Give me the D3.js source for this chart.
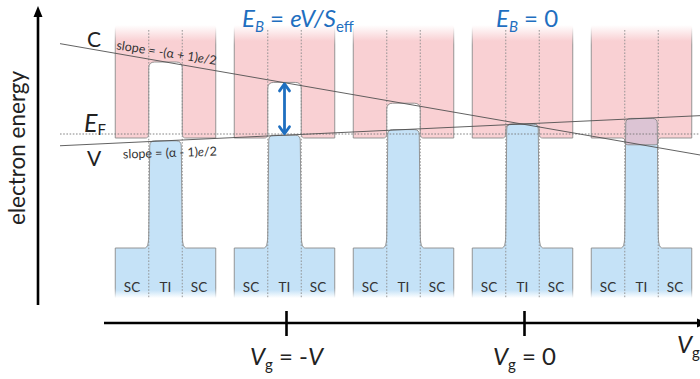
<!DOCTYPE html>
<html><head><meta charset="utf-8">
<script src="https://cdn.jsdelivr.net/npm/d3@7"></script>
<style>
html,body{margin:0;padding:0;background:#fff;}
svg{display:block;font-family:Lato,"Open Sans",sans-serif;}
</style></head><body>
<svg id="chart" width="700" height="379"></svg>
<script>
// Gate voltage of each band diagram, in units of V
const gateVoltages = [-1.5, -1, -0.5, 0, 0.5];
// TI conduction-band bottom and valence-band top, meV relative to E_F
const tiConduction = [360, 258, 154, 50, -54];
const tiValence = [-34, -6, 22, 50, 78];
// SC band edges, meV relative to E_F
const scConduction = -20;
const scValence = -570;
// Energy window shown for the bands (fades at both ends)
const energyRange = [-820, 545];
const regionLabels = ["SC", "TI", "SC"];
const gateTicks = [-1, 0];
const gateTickLabels = ["-V", "0"];

const svg = d3.select("#chart");
const W = 700, H = 379;

const x = d3.scaleLinear().domain([-1, 0]).range([284.5, 522.5]);
const y = d3.scaleLinear().domain(energyRange).range([298, 25]);
const panelW = 100.5;
const region = d3.scaleBand().domain([0, 1, 2]).range([-panelW / 2, panelW / 2]);

const pink = "#f9d0d3", blue = "#c5e2f7", purple = "#dcc4d4";
const edge = "#8a8a8a";
const accent = "#1f6fc0";

const defs = svg.append("defs");
function vGrad(id, color, y1, y2, o1, o2) {
  const g = defs.append("linearGradient").attr("id", id)
    .attr("gradientUnits", "userSpaceOnUse")
    .attr("x1", 0).attr("x2", 0).attr("y1", y1).attr("y2", y2);
  g.append("stop").attr("offset", 0).attr("stop-color", color).attr("stop-opacity", o1);
  g.append("stop").attr("offset", 1).attr("stop-color", color).attr("stop-opacity", o2);
}
const yTop = y(energyRange[1]), yBot = y(energyRange[0]);
vGrad("pinkFill", pink, yTop, yTop + 16, 0, 1);
vGrad("pinkEdge", edge, yTop + 2, yTop + 20, 0, 1);
vGrad("blueFill", blue, yBot - 8, yBot, 1, 0);
vGrad("blueEdge", edge, yBot - 10, yBot, 1, 0);

// Band edge running across SC | TI | SC, from the left SC to the right SC
function profile(cx, eS, eT, fx, fy, r, taper) {
  const L = cx - panelW / 2, R = cx + panelW / 2;
  const tL = cx + region(1), tR = cx + region(1) + region.bandwidth();
  const yS = y(eS), yT = y(eT);
  const s = Math.sign(yT - yS);
  if (s === 0) return `M${L},${yS}L${R},${yS}`;
  const d = Math.abs(yT - yS);
  const f = Math.min(fy, d * 0.45), rc = Math.min(r, d * 0.45);
  return [
    `M${L},${yS}`,
    `L${tL - fx},${yS}`,
    `C${tL - fx * 0.25},${yS} ${tL},${yS + s * f * 0.35} ${tL},${yS + s * f}`,
    `L${tL + taper},${yT - s * rc}`,
    `Q${tL + taper},${yT} ${tL + taper + rc},${yT}`,
    `L${tR - taper - rc},${yT}`,
    `Q${tR - taper},${yT} ${tR - taper},${yT - s * rc}`,
    `L${tR},${yS + s * f}`,
    `C${tR},${yS + s * f * 0.35} ${tR + fx * 0.25},${yS} ${tR + fx},${yS}`,
    `L${R},${yS}`
  ].join("");
}

const panels = gateVoltages.map((v, i) => ({
  v, i, cx: x(v), ec: tiConduction[i], ev: tiValence[i]
}));

function cbPath(p, close) {
  const L = p.cx - panelW / 2, R = p.cx + panelW / 2;
  const body = profile(p.cx, scConduction, p.ec, 3, 6, 6, 0).replace(/^M/, "L");
  return `M${L},${yTop}` + body + `L${R},${yTop}` + (close ? "Z" : "");
}
function vbPath(p, close) {
  const L = p.cx - panelW / 2, R = p.cx + panelW / 2;
  const body = profile(p.cx, scValence, p.ev, 4, 15, 5, 1).replace(/^M/, "L");
  return `M${L},${yBot}` + body + `L${R},${yBot}` + (close ? "Z" : "");
}

// clip paths of the conduction bands, used to shade band overlap
panels.forEach(p => {
  defs.append("clipPath").attr("id", "cb" + p.i)
    .append("path").attr("d", cbPath(p, true));
});

const g = svg.append("g");
g.selectAll("path.cb").data(panels).join("path").attr("class", "cb")
  .attr("d", p => cbPath(p, true)).attr("fill", "url(#pinkFill)");
g.selectAll("path.vb").data(panels).join("path").attr("class", "vb")
  .attr("d", p => vbPath(p, true)).attr("fill", "url(#blueFill)");
g.selectAll("path.ov").data(panels.filter(p => p.ev > p.ec)).join("path").attr("class", "ov")
  .attr("clip-path", p => `url(#cb${p.i})`)
  .attr("d", p => vbPath(p, true)).attr("fill", purple);
g.selectAll("path.cbe").data(panels).join("path").attr("class", "cbe")
  .attr("d", p => cbPath(p, false)).attr("fill", "none")
  .attr("stroke", "url(#pinkEdge)").attr("stroke-width", 0.9);
g.selectAll("path.vbe").data(panels).join("path").attr("class", "vbe")
  .attr("d", p => vbPath(p, false)).attr("fill", "none")
  .attr("stroke", "url(#blueEdge)").attr("stroke-width", 0.9);

// SC / TI boundaries
const bounds = panels.flatMap(p => [p.cx + region(1), p.cx + region(2)]);
g.selectAll("line.bd").data(bounds).join("line").attr("class", "bd")
  .attr("x1", d => d).attr("x2", d => d)
  .attr("y1", yTop + 5).attr("y2", yBot)
  .attr("stroke", "#8c8c8c").attr("stroke-width", 0.9).attr("stroke-dasharray", "1.6,1.6");

// region labels
g.selectAll("g.lab").data(panels).join("g").attr("class", "lab")
  .selectAll("text").data(p => regionLabels.map((t, k) => ({ t, xx: p.cx + region(k) + region.bandwidth() / 2 })))
  .join("text").attr("x", d => d.xx).attr("y", 292)
  .attr("text-anchor", "middle").attr("font-size", 13.5).attr("fill", "#333").text(d => d.t);

// Fermi level
const xL = 60, xR = W;
svg.append("line").attr("x1", xL).attr("x2", xR).attr("y1", y(0)).attr("y2", y(0))
  .attr("stroke", "#777").attr("stroke-width", 0.9).attr("stroke-dasharray", "1.6,1.6");

// TI band-edge trends with gate voltage
function trend(vals) {
  const n = vals.length - 1;
  const k = (vals[n] - vals[0]) / (gateVoltages[n] - gateVoltages[0]);
  const at = v => vals[0] + k * (v - gateVoltages[0]);
  return [[xL, y(at(x.invert(xL)))], [xR, y(at(x.invert(xR)))]];
}
const lineGen = d3.line();
svg.append("path").attr("d", lineGen(trend(tiConduction))).attr("stroke", "#505050").attr("stroke-width", 0.9).attr("fill", "none");
svg.append("path").attr("d", lineGen(trend(tiValence))).attr("stroke", "#505050").attr("stroke-width", 0.9).attr("fill", "none");

// gap arrow at V_g = -V
const pa = panels[1];
const ya = y(pa.ec) + 1.5, yb = y(pa.ev) - 1.5;
const ga = svg.append("g").attr("stroke", accent).attr("stroke-width", 2.8).attr("fill", "none")
  .attr("stroke-linecap", "round").attr("stroke-linejoin", "round");
ga.append("line").attr("x1", pa.cx).attr("x2", pa.cx).attr("y1", ya + 1).attr("y2", yb - 1);
ga.append("polyline").attr("points", `${pa.cx - 5},${ya + 7} ${pa.cx},${ya} ${pa.cx + 5},${ya + 7}`);
ga.append("polyline").attr("points", `${pa.cx - 5},${yb - 7} ${pa.cx},${yb} ${pa.cx + 5},${yb - 7}`);

// slope annotations
const cT = trend(tiConduction), vT = trend(tiValence);
const ang = pts => Math.atan2(pts[1][1] - pts[0][1], pts[1][0] - pts[0][0]) * 180 / Math.PI;
const s1 = svg.append("text").attr("font-size", 12.5).attr("fill", "#333").attr("text-anchor", "middle")
  .attr("transform", `translate(166,57) rotate(${ang(cT) - 1})`);
s1.append("tspan").text("slope = -(α + 1)");
s1.append("tspan").attr("font-style", "italic").text("e");
s1.append("tspan").text("/2");
const s2 = svg.append("text").attr("font-size", 12.5).attr("fill", "#333").attr("text-anchor", "middle")
  .attr("transform", `translate(170,157) rotate(${ang(vT) + 1})`);
s2.append("tspan").text("slope = (α - 1)");
s2.append("tspan").attr("font-style", "italic").text("e");
s2.append("tspan").text("/2");

// band labels
svg.append("text").attr("x", 94).attr("y", 47).attr("text-anchor", "middle").attr("font-size", 21).attr("fill", "#222").text("C");
svg.append("text").attr("x", 94).attr("y", 166).attr("text-anchor", "middle").attr("font-size", 21).attr("fill", "#222").text("V");
const ef = svg.append("text").attr("x", 84).attr("y", 132).attr("font-size", 25).attr("fill", "#222");
ef.append("tspan").attr("font-style", "italic").text("E");
ef.append("tspan").attr("font-size", 15).attr("dy", 3).text("F");

// headings
const h1 = svg.append("text").attr("x", 242).attr("y", 27).attr("font-size", 24).attr("fill", accent);
h1.append("tspan").attr("font-style", "italic").text("E");
h1.append("tspan").attr("font-style", "italic").attr("font-size", 15).attr("dy", 5).text("B");
h1.append("tspan").attr("dy", -5).text(" = ");
h1.append("tspan").attr("font-style", "italic").text("eV/S");
h1.append("tspan").attr("font-size", 15).attr("dy", 5).text("eff");
const h2 = svg.append("text").attr("x", 496).attr("y", 27).attr("font-size", 24).attr("fill", accent);
h2.append("tspan").attr("font-style", "italic").text("E");
h2.append("tspan").attr("font-style", "italic").attr("font-size", 15).attr("dy", 5).text("B");
h2.append("tspan").attr("dy", -5).text(" = 0");

// energy axis
const ax = svg.append("g");
ax.append("line").attr("x1", 38).attr("x2", 38).attr("y1", 305).attr("y2", 14)
  .attr("stroke", "#000").attr("stroke-width", 2.6);
ax.append("path").attr("d", "M38,6L42.5,17L33.5,17Z").attr("fill", "#000");
svg.append("text").attr("transform", "translate(25,148) rotate(-90)").attr("text-anchor", "middle")
  .attr("font-size", 22.5).attr("fill", "#222").text("electron energy");

// gate-voltage axis
const yAx = 323;
const gx = svg.append("g");
gx.append("line").attr("x1", 104).attr("x2", 704).attr("y1", yAx).attr("y2", yAx)
  .attr("stroke", "#000").attr("stroke-width", 2.6);
gx.append("path").attr("d", `M708,${yAx}L697,${yAx - 4.5}L697,${yAx + 4.5}Z`).attr("fill", "#000");
gx.selectAll("line.tk").data(gateTicks).join("line").attr("class", "tk")
  .attr("x1", d => x(d) + 2).attr("x2", d => x(d) + 2).attr("y1", yAx - 12).attr("y2", yAx + 13)
  .attr("stroke", "#000").attr("stroke-width", 2.6);
gx.selectAll("text.tl").data(gateTicks).join("text").attr("class", "tl")
  .attr("x", d => x(d) + 2).attr("y", 365).attr("text-anchor", "middle").attr("font-size", 24).attr("fill", "#222")
  .each(function (d, i) {
    const t = d3.select(this);
    t.append("tspan").attr("font-style", "italic").text("V");
    t.append("tspan").attr("font-size", 15).attr("dy", 5).text("g");
    t.append("tspan").attr("dy", -5).text(" = ");
    const lab = gateTickLabels[i];
    if (lab.startsWith("-")) {
      t.append("tspan").text("-");
      t.append("tspan").attr("font-style", "italic").text(lab.slice(1));
    } else t.append("tspan").text(lab);
  });
const vg = svg.append("text").attr("x", 677).attr("y", 353).attr("font-size", 24).attr("fill", "#222");
vg.append("tspan").attr("font-style", "italic").text("V");
vg.append("tspan").attr("font-size", 15).attr("dy", 5).text("g");
</script>
</body></html>
